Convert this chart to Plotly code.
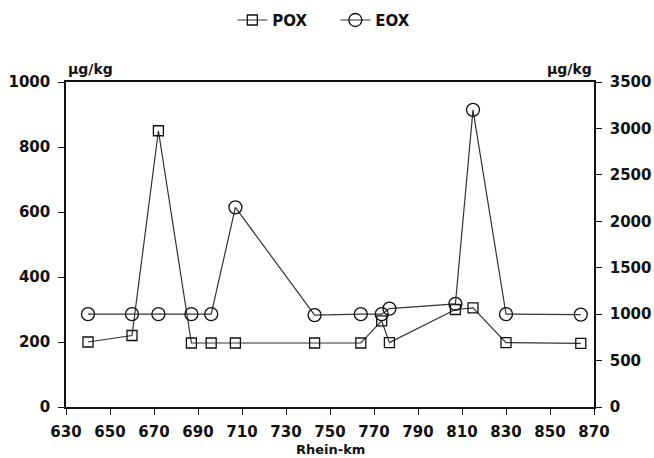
import plotly.graph_objects as go

rhein_km = [640, 660, 672, 687, 696, 707, 743, 764, 773.5, 777, 807, 815, 830, 864]
pox = [200, 220, 850, 197, 197, 197, 197, 197, 265, 198, 300, 305, 198, 196]
eox = [1000, 1000, 1000, 1000, 1000, 2150, 990, 1000, 1000, 1060, 1110, 3200, 1000, 995]

x_ticks = list(range(630, 871, 20))
left_ticks = list(range(0, 1001, 200))
right_ticks = list(range(0, 3501, 500))

font_family = "DejaVu Sans"
black = "#111111"

fig = go.Figure()
fig.add_trace(go.Scatter(
    x=rhein_km, y=pox, name="<b>POX</b>", mode="lines+markers",
    line=dict(color="#333333", width=1.2),
    marker=dict(symbol="square-open", size=10, color=black, line=dict(width=1.3)),
    yaxis="y",
))
fig.add_trace(go.Scatter(
    x=rhein_km, y=eox, name="<b>EOX</b>", mode="lines+markers",
    line=dict(color="#333333", width=1.2),
    marker=dict(symbol="circle-open", size=13, color=black, line=dict(width=1.3)),
    yaxis="y2",
))

axis_font = dict(family=font_family, size=15, color=black)

fig.update_layout(
    width=654, height=458,
    margin=dict(l=66, r=60, t=82, b=51, autoexpand=False),
    paper_bgcolor="white", plot_bgcolor="white",
    font=dict(family=font_family, color=black),
    showlegend=True,
    legend=dict(orientation="h", x=0.315, xanchor="left", y=1.19, yanchor="middle",
                font=dict(family=font_family, size=15, color=black),
                itemwidth=30, tracegroupgap=0, entrywidth=58, entrywidthmode="pixels"),
    xaxis=dict(
        range=[630, 870], tickvals=x_ticks, ticktext=[f"<b>{v}</b>" for v in x_ticks],
        showline=True, linecolor=black, linewidth=1.5, mirror=True,
        ticks="outside", ticklen=6, tickcolor=black, tickwidth=1.2,
        ticklabelstandoff=4,
        showgrid=False, zeroline=False, tickfont=axis_font, automargin=False,
    ),
    yaxis=dict(
        range=[0, 1000], tickvals=left_ticks, ticktext=[f"<b>{v}</b>" for v in left_ticks],
        showline=True, linecolor=black, linewidth=1.5,
        ticks="outside", ticklen=6, tickcolor=black, tickwidth=1.2,
        ticklabelstandoff=5,
        showgrid=False, zeroline=False, tickfont=axis_font, automargin=False,
    ),
    yaxis2=dict(
        range=[0, 3500], tickvals=right_ticks, ticktext=[f"<b>{v}</b>" for v in right_ticks],
        overlaying="y", side="right",
        showline=True, linecolor=black, linewidth=1.5,
        ticks="outside", ticklen=6, tickcolor=black, tickwidth=1.2,
        ticklabelstandoff=5,
        showgrid=False, zeroline=False, tickfont=axis_font, automargin=False,
    ),
    annotations=[
        dict(text="<b>µg/kg</b>", xref="paper", yref="paper", x=0, y=1, xanchor="left", yanchor="bottom",
             yshift=3, showarrow=False, font=dict(family=font_family, size=14, color=black)),
        dict(text="<b>µg/kg</b>", xref="paper", yref="paper", x=1, y=1, xanchor="right", yanchor="bottom",
             yshift=3, showarrow=False, font=dict(family=font_family, size=14, color=black)),
        dict(text="<b>Rhein-km</b>", xref="paper", yref="paper", x=0.5, y=0, xanchor="center", yanchor="bottom",
             yshift=-51, borderpad=0, showarrow=False, font=dict(family=font_family, size=13, color=black)),
    ],
)

fig.write_html("out.html")
